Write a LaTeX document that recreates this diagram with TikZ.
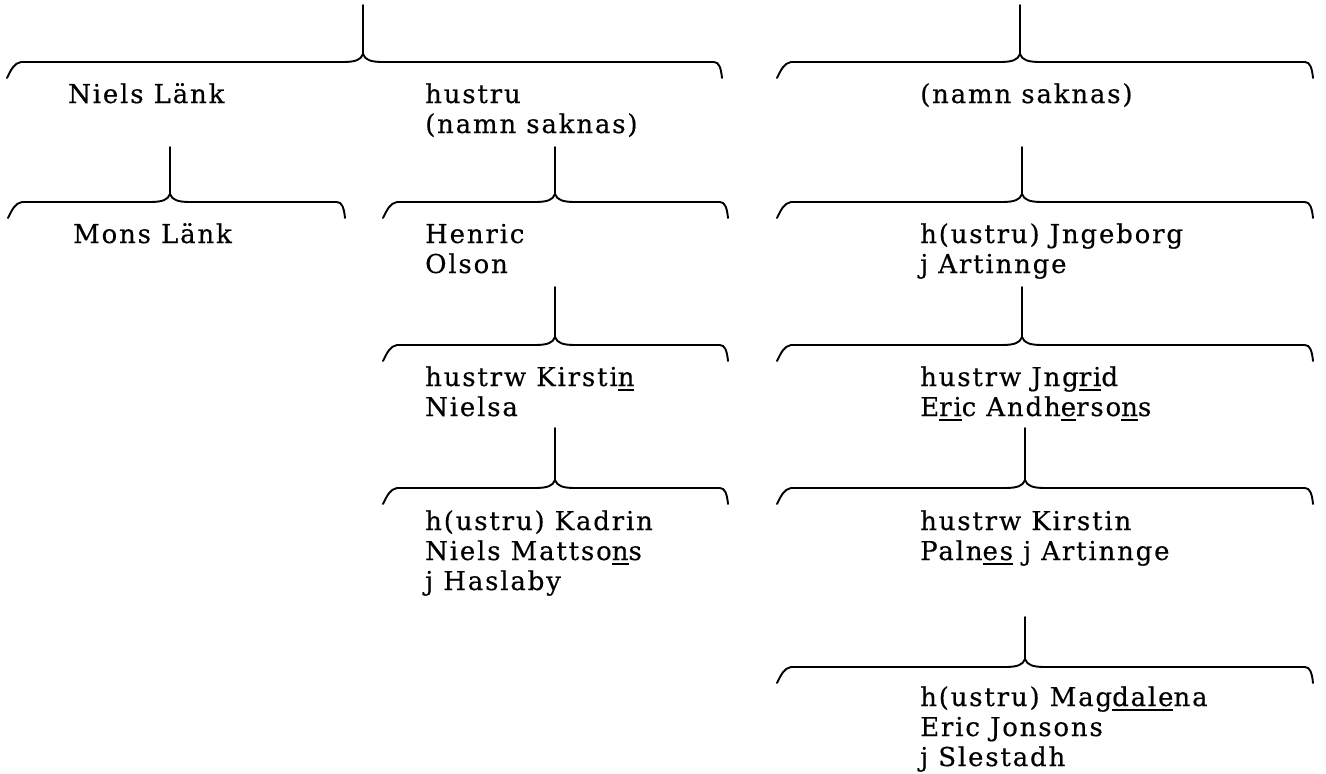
\documentclass[tikz,border=0pt]{standalone}
\usepackage{fontspec}
\setmainfont{DejaVu Serif}[LetterSpace=7, FakeBold=0.4]
\newcommand{\ul}[1]{{\setbox0\hbox{#1}\rlap{\rule[-5pt]{\wd0}{2pt}}\box0}}
\newcommand{\FamBrace}[5]{% cx, top, left, right, liney
  \draw[bracestyle] (#3,#5+16) .. controls (#3+4,#5+8) and (#3+7,#5+1) .. (#3+14,#5)
    -- (#1-20,#5) .. controls (#1-8,#5) and (#1-2,#5-2) .. (#1,#5-8)
    .. controls (#1+2,#5-2) and (#1+8,#5) .. (#1+20,#5)
    -- (#4-8,#5) .. controls (#4-3,#5) and (#4-1,#5+6) .. (#4,#5+16);
  \draw[bracestyle] (#1,#5-8) -- (#1,#2);
}
\begin{document}
\begin{tikzpicture}[x=1pt,y=-1pt,
  bracestyle/.style={line width=1.9pt, line cap=round, line join=round, black},
  txt/.style={anchor=base west, inner sep=0pt, align=left, font=\fontsize{26}{30}\selectfont}]
\useasboundingbox (0,0) rectangle (1326,774);
% left column
\FamBrace{363}{5}{7}{722}{62}
\node[txt] (nl) at (68,103) {Niels Länk};
\node[txt] (hu1) at (425,133) {hustru\\(namn saknas)};
\FamBrace{170}{147}{8}{345}{202}
\node[txt] (ml) at (73,243) {Mons Länk};
\FamBrace{555}{147}{383}{728}{202}
\node[txt] (ho) at (425,273) {Henric\\Olson};
\FamBrace{555}{287}{383}{728}{345}
\node[txt] (kn) at (425,416) {hustrw Kirsti\ul{n}\\Nielsa};
\FamBrace{555}{428}{383}{728}{488}
\node[txt] (kd) at (425,590) {h(ustru) Kadrin\\Niels Mattso\ul{n}s\\j Haslaby};
% right column
\FamBrace{1020}{5}{777}{1313}{62}
\node[txt] (ns) at (920,103) {(namn saknas)};
\FamBrace{1022}{147}{777}{1313}{202}
\node[txt] (ij) at (920,273) {h(ustru) Jngeborg\\j Artinnge};
\FamBrace{1022}{287}{777}{1313}{345}
\node[txt] (ig) at (920,416) {hustrw Jng\ul{ri}d\\E\ul{ri}c Andh\ul{e}rso\ul{n}s};
\FamBrace{1025}{428}{777}{1313}{488}
\node[txt] (kp) at (920,560) {hustrw Kirstin\\Paln\ul{es} j Artinnge};
\FamBrace{1025}{617}{777}{1313}{667}
\node[txt] (mg) at (920,766) {h(ustru) Mag\ul{dale}na\\Eric Jonsons\\j Slestadh};
\end{tikzpicture}
\end{document}
